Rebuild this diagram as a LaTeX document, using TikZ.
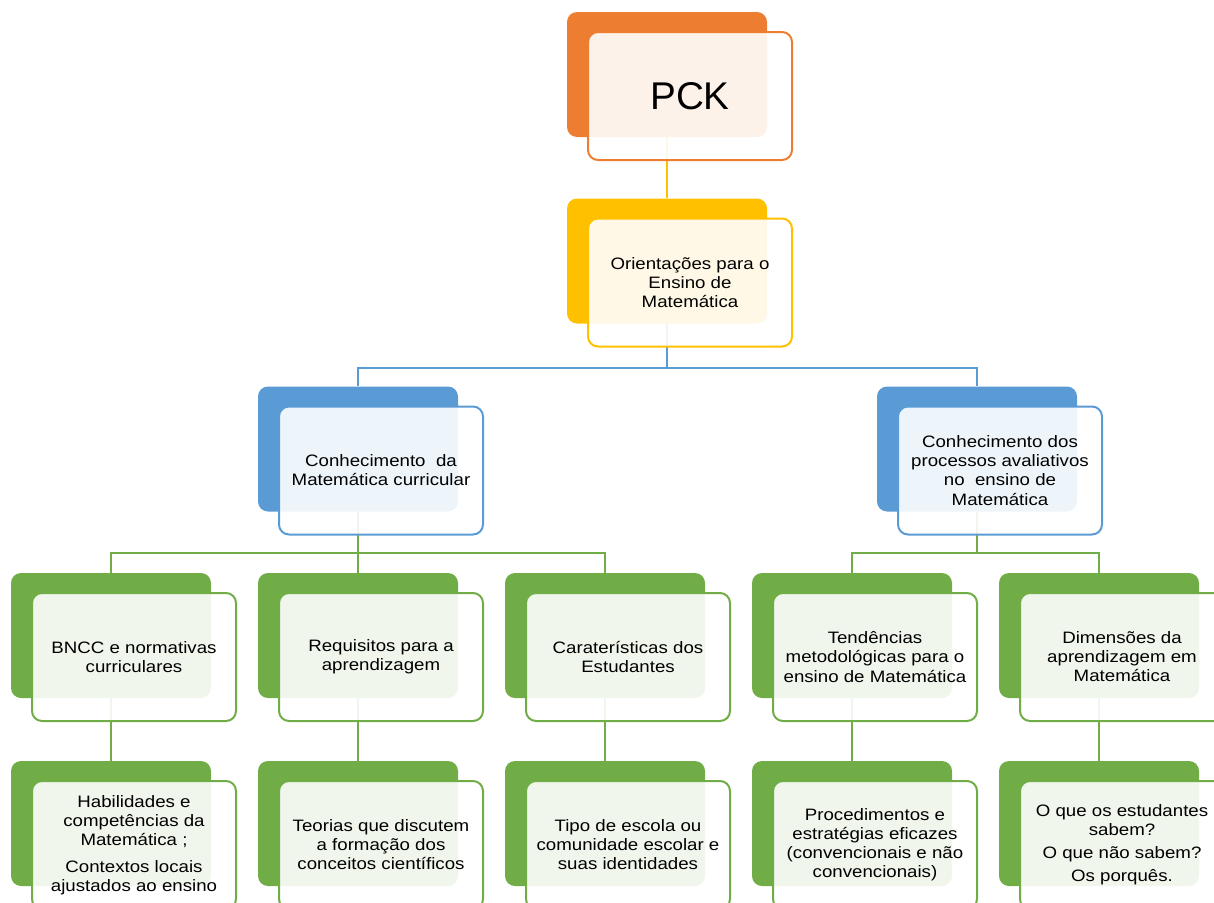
\documentclass[tikz,border=0pt]{standalone}
\usepackage{fontspec}
\setmainfont[FakeStretch=1.13]{Liberation Sans}
\newfontfamily\pckfont{Liberation Sans}
\usetikzlibrary{calc, backgrounds}

\definecolor{laranja}{HTML}{ED7D31}
\definecolor{amarelo}{HTML}{FFC000}
\definecolor{azul}{HTML}{5B9BD5}
\definecolor{verde}{HTML}{70AD47}

\tikzset{
  fundo/.style={rectangle, rounded corners=7.5pt, fill=#1, minimum width=150pt, minimum height=93.75pt, inner sep=0pt},
  frente/.style={rectangle, rounded corners=7.5pt, draw=#1, line width=1.5pt, fill=white, fill opacity=0.9, text opacity=1, minimum width=153pt, minimum height=96pt, align=center, inner sep=0pt, font=\fontsize{12.4}{14.3}\selectfont},
  liga/.style={draw=#1, line width=1.5pt},
}

% caixa: nome, posicao do fundo, cor, texto
\newcommand{\caixa}[4]{
  \node[fundo=#3] (#1-b) at (#2) {};
  \node[frente=#3] (#1) at ($(#2)+(23,21.5)$) {#4};
}

\begin{document}
\begin{tikzpicture}[x=0.75pt, y=-0.75pt]
    \useasboundingbox (0,0) rectangle (1214,903);
    \clip (0,0) rectangle (1214,903);

    % topo
    \caixa{pck}{667,74.5}{laranja}{\pckfont\fontsize{29}{34}\selectfont PCK}
    \caixa{ori}{667,261}{amarelo}{Orientações para o\\Ensino de\\Matemática}

    % nivel 2
    \caixa{conhA}{358,449}{azul}{Conhecimento\ \ da\\Matemática curricular}
    \caixa{conhB}{977,449}{azul}{Conhecimento dos\\processos avaliativos\\no\ \ ensino de\\Matemática}

    % nivel 3
    \caixa{bncc}{111,635.5}{verde}{BNCC e normativas\\curriculares}
    \caixa{requ}{358,635.5}{verde}{Requisitos para a\\aprendizagem}
    \caixa{cara}{605,635.5}{verde}{Caraterísticas dos\\Estudantes}
    \caixa{tend}{852,635.5}{verde}{Tendências\\metodológicas para o\\ensino de Matemática}
    \caixa{dime}{1099,635.5}{verde}{Dimensões da\\aprendizagem em\\Matemática}

    % nivel 4
    \caixa{habi}{111,823.5}{verde}{Habilidades e\\competências da\\Matemática ;\\[6pt]Contextos locais\\ajustados ao ensino}
    \caixa{teor}{358,823.5}{verde}{Teorias que discutem\\a formação dos\\conceitos científicos}
    \caixa{tipo}{605,823.5}{verde}{Tipo de escola ou\\comunidade escolar e\\suas identidades}
    \caixa{proc}{852,823.5}{verde}{Procedimentos e\\estratégias eficazes\\(convencionais e não\\convencionais)}
    \caixa{sabe}{1099,823.5}{verde}{O que os estudantes\\sabem?\\[3pt]O que não sabem?\\[3pt]Os porquês.}

    \begin{scope}[on background layer]
        \draw[liga=amarelo] (pck-b.south) -- (ori-b.north);
        \draw[liga=azul] (ori-b.south) -- ++(0,44) -| (conhA-b.north);
        \draw[liga=azul] (ori-b.south) -- ++(0,44) -| (conhB-b.north);
        \foreach \filho in {bncc, requ, cara}
            \draw[liga=verde] (conhA-b.south) -- ++(0,41) -| (\filho-b.north);
        \foreach \filho in {tend, dime}
            \draw[liga=verde] (conhB-b.south) -- ++(0,41) -| (\filho-b.north);
        \draw[liga=verde] (bncc-b.south) -- (habi-b.north);
        \draw[liga=verde] (requ-b.south) -- (teor-b.north);
        \draw[liga=verde] (cara-b.south) -- (tipo-b.north);
        \draw[liga=verde] (tend-b.south) -- (proc-b.north);
        \draw[liga=verde] (dime-b.south) -- (sabe-b.north);
    \end{scope}
\end{tikzpicture}
\end{document}
